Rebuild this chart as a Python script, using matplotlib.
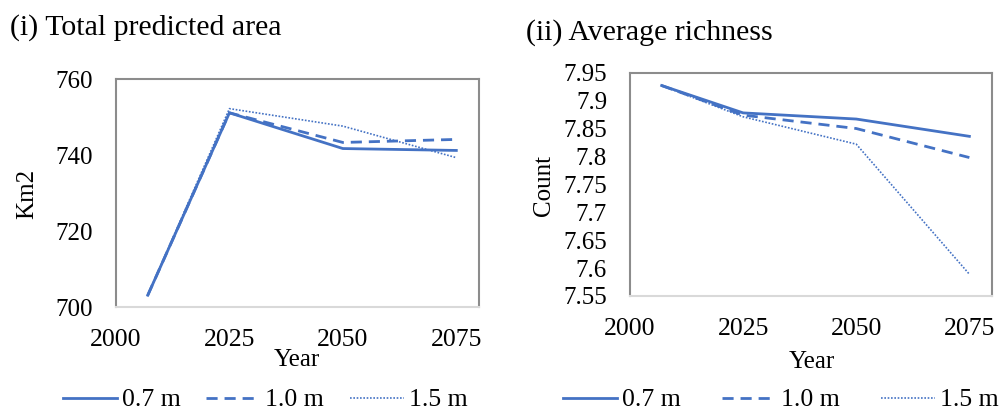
import matplotlib.pyplot as plt
from matplotlib.lines import Line2D

plt.rcParams['font.family'] = ['Liberation Serif', 'DejaVu Serif']

years = [2007, 2025, 2050, 2075]
scenarios = ['0.7 m', '1.0 m', '1.5 m']

# total predicted area (km2) per sea-level scenario
area_07 = [703.1, 751.1, 741.7, 741.2]
area_10 = [703.1, 751.1, 743.3, 744.1]
area_15 = [703.1, 752.2, 747.6, 739.3]

# average species richness per scenario
rich_07 = [7.927, 7.878, 7.867, 7.836]
rich_10 = [7.927, 7.874, 7.850, 7.798]
rich_15 = [7.927, 7.871, 7.822, 7.589]

x_ticks = [2000, 2025, 2050, 2075]
area_ticks = [700, 720, 740, 760]
rich_ticks = [7.55, 7.6, 7.65, 7.7, 7.75, 7.8, 7.85, 7.9, 7.95]

blue = '#4472C4'
styles = [
    dict(linestyle='-', linewidth=2.0),
    dict(linestyle=(0, (4, 2.5)), linewidth=2.0),
    dict(linestyle=(0, (1, 1)), linewidth=1.2),
]

fig = plt.figure(figsize=(9.99, 4.12), dpi=100)
ax1 = fig.add_axes([116 / 999, 105 / 412, 363 / 999, 228 / 412])
ax2 = fig.add_axes([630 / 999, 116 / 412, 362 / 999, 223.3 / 412])


def style_axis(ax, yticks, ylim, xpad, ypad, fmt):
    ax.set_xlim(2000, 2080)
    ax.set_ylim(*ylim)
    ax.set_xticks(x_ticks)
    ax.set_yticks(yticks)
    ax.set_yticklabels([fmt(v) for v in yticks])
    ax.tick_params(length=0)
    ax.tick_params(axis='x', pad=xpad, labelsize=18.5)
    ax.tick_params(axis='y', pad=ypad, labelsize=18)
    for side in ['top', 'left', 'right']:
        ax.spines[side].set_color('#8c8c8c')
        ax.spines[side].set_linewidth(1.5)
    ax.spines['bottom'].set_color('#d9d9d9')
    ax.spines['bottom'].set_linewidth(1.5)


for ax, series in [(ax1, [area_07, area_10, area_15]),
                   (ax2, [rich_07, rich_10, rich_15])]:
    for vals, st in zip(series, styles):
        ax.plot(years, vals, color=blue, **st)

style_axis(ax1, area_ticks, (700, 760), 15.5, 16.5, lambda v: f'{v:g}')
style_axis(ax2, rich_ticks, (7.55, 7.95), 16, 16.5, lambda v: f'{v:g}')

fig.text(10 / 999, 1 - 28 / 412, '(i) Total predicted area', fontsize=21.5,
         va='center', ha='left')
fig.text(526 / 999, 1 - 33 / 412, '(ii) Average richness', fontsize=21.5,
         va='center', ha='left')

fig.text(27 / 999, 1 - 194 / 412, 'Km2', fontsize=18, rotation=90,
         va='center', ha='center')
fig.text(297 / 999, 1 - 360 / 412, 'Year', fontsize=18, va='center', ha='center')
fig.text(544 / 999, 1 - 185 / 412, 'Count', fontsize=18, rotation=90,
         va='center', ha='center')
fig.text(812 / 999, 1 - 362 / 412, 'Year', fontsize=18, va='center', ha='center')

handles = [Line2D([], [], color=blue, **st) for st in styles]
fig.legend(handles, scenarios, loc='center', bbox_to_anchor=(265 / 999, 1 - 400 / 412),
           ncol=3, frameon=False, fontsize=18.5, handlelength=2.1,
           handletextpad=0.2, columnspacing=1.0, borderaxespad=0, borderpad=0)
fig.legend(handles, scenarios, loc='center', bbox_to_anchor=(781 / 999, 1 - 400 / 412),
           ncol=3, frameon=False, fontsize=18.5, handlelength=2.1,
           handletextpad=0.2, columnspacing=1.6, borderaxespad=0, borderpad=0)

fig.savefig('out.png', dpi=100)
